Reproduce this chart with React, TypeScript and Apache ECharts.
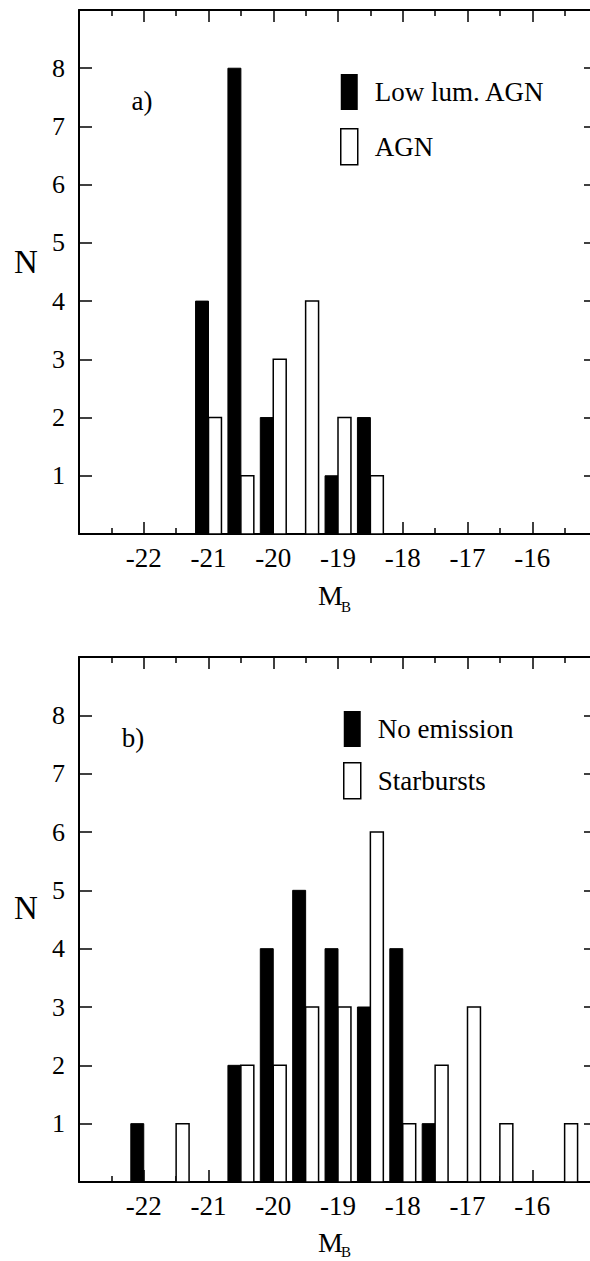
import React, { useEffect, useRef } from "react";
import * as echarts from "echarts";

// Histogram bin centres (absolute B magnitude)
const bins = [-22, -21.5, -21, -20.5, -20, -19.5, -19, -18.5, -18, -17.5, -17, -16.5, -16, -15.5];

// Panel a)
const lowLumAgn = [0, 0, 4, 8, 2, 0, 1, 2, 0, 0, 0, 0, 0, 0];
const agn = [0, 0, 2, 1, 3, 4, 2, 1, 0, 0, 0, 0, 0, 0];

// Panel b)
const noEmission = [1, 0, 0, 2, 4, 5, 4, 3, 4, 1, 0, 0, 0, 0];
const starbursts = [0, 1, 0, 2, 2, 3, 3, 6, 1, 2, 3, 1, 0, 1];

const FONT = "Liberation Serif";
const BAR = 0.2; // bar width in magnitudes

function pairs(values: number[]) {
  return bins.map((b, i) => [b, values[i]]);
}

// side -1: bar sits left of the bin centre, +1: right of it
function barRenderer(side: number, fill: string, lineWidth: number) {
  return (_params: any, api: any) => {
    const c = api.value(0);
    const v = api.value(1);
    const x0 = side < 0 ? c - BAR : c;
    const x1 = x0 + BAR;
    const a = api.coord([x0, v]);
    const b = api.coord([x1, 0]);
    return {
      type: "rect",
      shape: { x: a[0], y: a[1], width: b[0] - a[0], height: b[1] - a[1] },
      style: { fill, stroke: "#000", lineWidth },
    };
  };
}

function xAxisFor(gridIndex: number, position: "top" | "bottom") {
  return {
    type: "value",
    gridIndex,
    position,
    min: -23,
    max: -15,
    interval: 1,
    axisLine: { show: true, onZero: false, lineStyle: { color: "#000", width: 2 } },
    axisTick: { show: true, inside: true, length: 12, lineStyle: { color: "#000", width: 1.5 } },
    minorTick: { show: true, splitNumber: 2, length: 6, lineStyle: { color: "#000", width: 1.5 } },
    axisLabel: {
      show: position === "bottom",
      margin: 10,
      fontSize: 27,
      fontFamily: FONT,
      color: "#000",
      showMinLabel: false,
      showMaxLabel: false,
    },
    splitLine: { show: false },
    minorSplitLine: { show: false },
  };
}

function yAxisFor(gridIndex: number, position: "left" | "right") {
  return {
    type: "value",
    gridIndex,
    position,
    min: 0,
    max: 9,
    interval: 1,
    axisLine: { show: true, onZero: false, lineStyle: { color: "#000", width: 2 } },
    axisTick: { show: true, inside: true, length: 13, lineStyle: { color: "#000", width: 1.5 } },
    axisLabel: {
      show: position === "left",
      margin: 14,
      fontSize: 26,
      fontFamily: FONT,
      color: "#000",
      showMinLabel: false,
      showMaxLabel: false,
    },
    splitLine: { show: false },
  };
}

function label(text: string, x: number, y: number, fontSize: number, align = "center") {
  return {
    type: "text",
    x,
    y,
    style: { text, fontSize, fontFamily: FONT, fill: "#000", align, verticalAlign: "middle" },
  };
}

export default function App() {
  const ref = useRef<HTMLDivElement>(null);

  useEffect(() => {
    if (!ref.current) return;
    const chart = echarts.init(ref.current, undefined, { renderer: "svg" });

    const legendText = { fontSize: 27, fontFamily: FONT, color: "#000", padding: [0, 0, 0, 12] };

    chart.setOption({
      animation: false,
      backgroundColor: "#fff",
      textStyle: { fontFamily: FONT },
      grid: [
        { left: 79, top: 10, width: 518, height: 524 },
        { left: 79, top: 657, width: 518, height: 525 },
      ],
      xAxis: [xAxisFor(0, "bottom"), xAxisFor(0, "top"), xAxisFor(1, "bottom"), xAxisFor(1, "top")],
      yAxis: [yAxisFor(0, "left"), yAxisFor(0, "right"), yAxisFor(1, "left"), yAxisFor(1, "right")],
      legend: [
        {
          orient: "vertical",
          left: 335,
          top: 69,
          itemWidth: 17,
          itemHeight: 36,
          itemGap: 18,
          selectedMode: false,
          textStyle: legendText,
          data: [
            { name: "Low lum. AGN", icon: "rect", itemStyle: { color: "#000", borderWidth: 0 } },
            { name: "AGN", icon: "rect", itemStyle: { color: "#fff", borderColor: "#000", borderWidth: 1.5 } },
          ],
        },
        {
          orient: "vertical",
          left: 338,
          top: 706,
          itemWidth: 17,
          itemHeight: 36,
          itemGap: 15,
          selectedMode: false,
          textStyle: legendText,
          data: [
            { name: "No emission", icon: "rect", itemStyle: { color: "#000", borderWidth: 0 } },
            { name: "Starbursts", icon: "rect", itemStyle: { color: "#fff", borderColor: "#000", borderWidth: 1.5 } },
          ],
        },
      ],
      series: [
        {
          name: "Low lum. AGN",
          type: "custom",
          xAxisIndex: 0,
          yAxisIndex: 0,
          itemStyle: { color: "#000" },
          encode: { x: 0, y: 1 },
          renderItem: barRenderer(-1, "#000", 1),
          data: pairs(lowLumAgn),
        },
        {
          name: "AGN",
          type: "custom",
          xAxisIndex: 0,
          yAxisIndex: 0,
          itemStyle: { color: "#fff", borderColor: "#000" },
          encode: { x: 0, y: 1 },
          renderItem: barRenderer(1, "#fff", 1.5),
          data: pairs(agn),
        },
        {
          name: "No emission",
          type: "custom",
          xAxisIndex: 2,
          yAxisIndex: 2,
          itemStyle: { color: "#000" },
          encode: { x: 0, y: 1 },
          renderItem: barRenderer(-1, "#000", 1),
          data: pairs(noEmission),
        },
        {
          name: "Starbursts",
          type: "custom",
          xAxisIndex: 2,
          yAxisIndex: 2,
          itemStyle: { color: "#fff", borderColor: "#000" },
          encode: { x: 0, y: 1 },
          renderItem: barRenderer(1, "#fff", 1.5),
          data: pairs(starbursts),
        },
      ],
      graphic: [
        label("N", 26, 262, 33),
        label("N", 26, 908, 33),
        label("M", 318, 595, 28, "left"),
        label("B", 341, 607, 15, "left"),
        label("M", 318, 1242, 28, "left"),
        label("B", 341, 1252, 15, "left"),
        label("a)", 142, 101, 27),
        label("b)", 133, 738, 27),
      ],
    });

    return () => chart.dispose();
  }, []);

  return (
    <div
      ref={ref}
      style={{ position: "fixed", left: 0, top: 0, width: 620, height: 1261, background: "#fff" }}
    />
  );
}
